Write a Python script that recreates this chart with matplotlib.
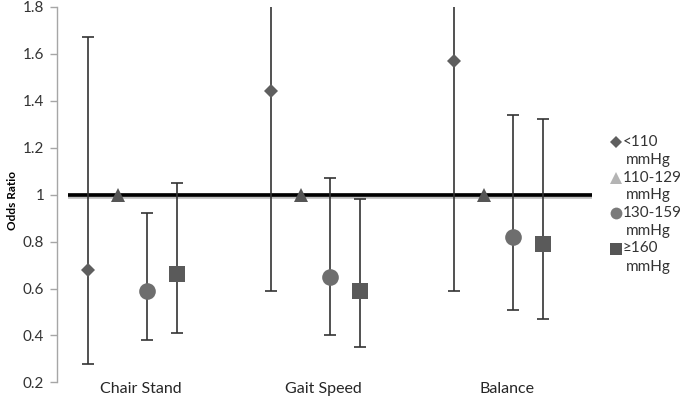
import matplotlib.pyplot as plt
from matplotlib.lines import Line2D
import numpy as np

plt.rcParams['font.family'] = ['Lato', 'DejaVu Sans']

categories = ["Chair Stand", "Gait Speed", "Balance"]
groups = ["<110\nmmHg", "110-129\nmmHg", "130-159\nmmHg", "\u2265160\nmmHg"]

# odds ratio, lower CI, upper CI per group (rows) and category (cols)
odds = [
    [0.68, 1.44, 1.57],
    [1.00, 1.00, 1.00],
    [0.59, 0.65, 0.82],
    [0.66, 0.59, 0.79],
]
lower = [
    [0.28, 0.59, 0.59],
    [1.00, 1.00, 1.00],
    [0.38, 0.40, 0.51],
    [0.41, 0.35, 0.47],
]
upper = [
    [1.67, 3.50, 4.20],
    [1.00, 1.00, 1.00],
    [0.92, 1.07, 1.34],
    [1.05, 0.98, 1.32],
]

markers = ["D", "^", "o", "s"]
sizes = [7.5, 10, 12, 11]
colors = ["#5f5f5f", "#555555", "#6e6e6e", "#5a5a5a"]
legend_colors = ["#5f5f5f", "#b4b4b4", "#7a7a7a", "#555555"]

fig = plt.figure(figsize=(6.85, 4.0), dpi=100)
ax = fig.add_axes([0.083, 0.044, 0.781, 0.939])

x = np.arange(len(categories))
offsets = [-0.243, -0.081, 0.081, 0.243]

# reference line at 1 with a soft shadow
ax.plot([-0.35, 2.55], [0.993, 0.993], color="#bdbdbd", lw=4, zorder=1,
        solid_capstyle="butt")
ax.plot([-0.35, 2.55], [1.0, 1.0], color="black", lw=2.6, zorder=2,
        solid_capstyle="butt")

for i in range(len(groups)):
    o = np.array(odds[i])
    lo = np.array(lower[i])
    hi = np.array(upper[i])
    xi = x + offsets[i]
    if i != 1:
        ax.errorbar(xi, o, yerr=[o - lo, hi - o], fmt="none", ecolor="#333333",
                    elinewidth=1.2, capsize=4.5, capthick=1.2, zorder=3)
    ax.plot(xi, o, linestyle="none", marker=markers[i], ms=sizes[i],
            color=colors[i], markeredgewidth=0, zorder=4)

ax.set_xlim(-0.413, 2.51)
ax.set_ylim(0.2, 1.8)
ax.set_yticks(np.arange(0.2, 1.81, 0.2))
ax.set_yticklabels(["0.2", "0.4", "0.6", "0.8", "1", "1.2", "1.4", "1.6", "1.8"])
ax.set_xticks(x + 0.045)
ax.set_xticklabels(categories)
ax.tick_params(axis="x", length=0, labelsize=11.5, colors="#262626", pad=0)
ax.tick_params(axis="y", length=5, width=1, color="#a6a6a6", labelsize=11,
               labelcolor="#333333", pad=4)
for side in ["top", "right", "bottom"]:
    ax.spines[side].set_visible(False)
ax.spines["left"].set_color("#a6a6a6")
ax.spines["left"].set_linewidth(1)

fig.text(0.018, 0.5, "Odds Ratio", rotation=90, ha="center", va="center",
         fontsize=8.5, fontweight="bold", color="black")

# legend: marker next to the first line of each two-line label
W, H = 685.0, 400.0
for i, label in enumerate(groups):
    top = 142 + 35.5 * i
    first, second = label.split("\n")
    fig.add_artist(Line2D([616 / W], [1 - top / H], transform=fig.transFigure,
                          linestyle="none", marker=markers[i],
                          ms=[6, 8.5, 8.5, 8.5][i], color=legend_colors[i],
                          markeredgewidth=0))
    fig.text(623 / W, 1 - top / H, first, ha="left", va="center",
             fontsize=11, color="#333333")
    fig.text(626 / W, 1 - (top + 18) / H, second, ha="left", va="center",
             fontsize=11, color="#333333")

fig.savefig("out.png", dpi=100)
